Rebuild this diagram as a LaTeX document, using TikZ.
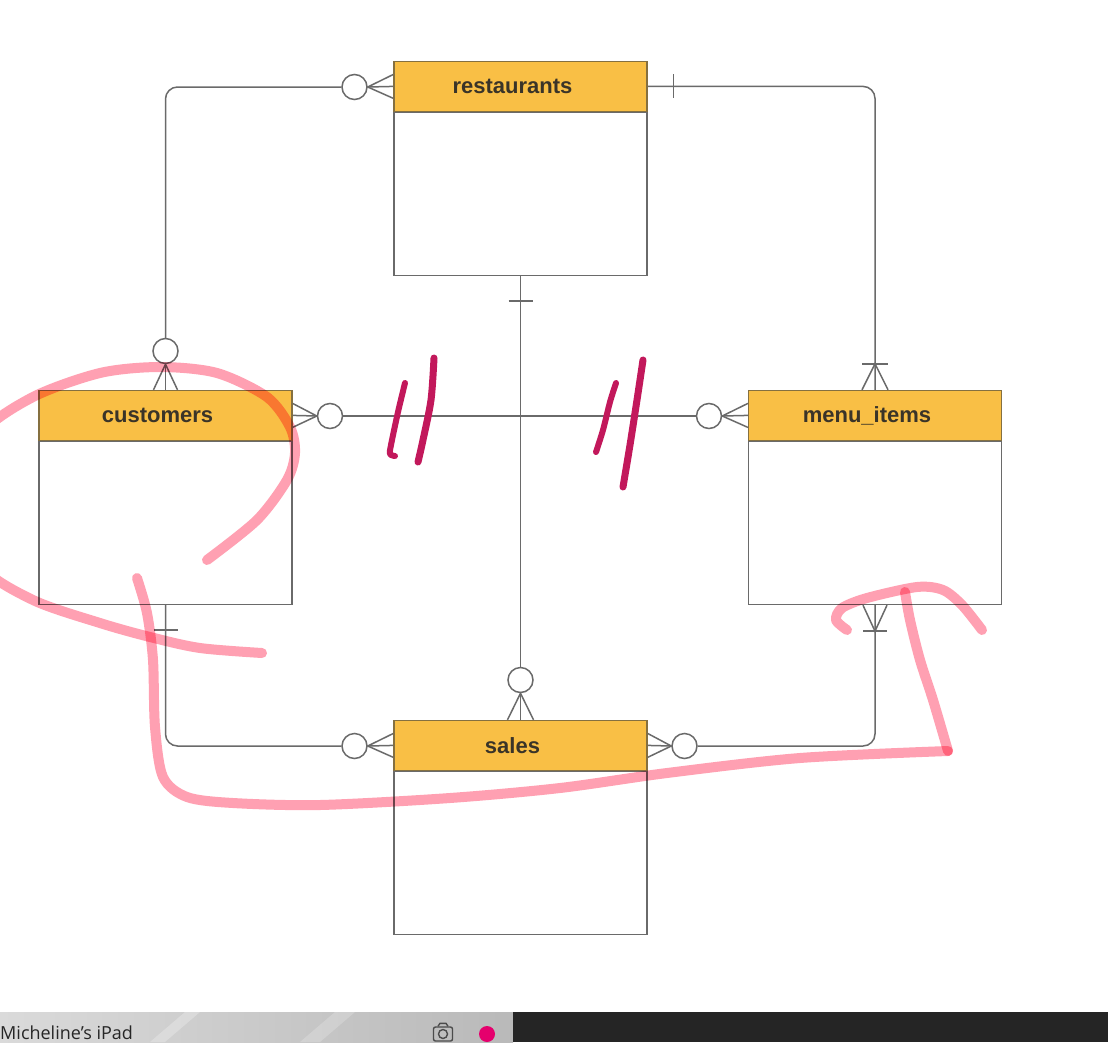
\documentclass[tikz,border=0pt]{standalone}
\usepackage{fontspec}
\setmainfont{Liberation Sans}
\newfontfamily\barfont{Open Sans}
\usetikzlibrary{calc}
\definecolor{hdrfill}{HTML}{F9BF45}
\definecolor{hdrline}{HTML}{857040}
\definecolor{boxline}{HTML}{6A6A6A}
\definecolor{lnc}{HTML}{6A6A6A}
\definecolor{txt}{HTML}{3A3428}
\definecolor{pinkann}{HTML}{FFA0B2}
\definecolor{magann}{HTML}{C2185B}
\definecolor{bardark}{HTML}{252525}
\definecolor{barlight}{HTML}{DADADA}
\definecolor{dotpink}{HTML}{E5006D}
\tikzset{
  hdr/.style={draw=hdrline, fill=hdrfill, line width=1.2pt, minimum width=253pt,
    minimum height=50pt, inner sep=0pt, anchor=south,
    font=\fontsize{22}{24}\selectfont\bfseries, text=txt},
  body/.style={draw=boxline, fill=white, line width=1.2pt, minimum width=253pt,
    minimum height=163pt, inner sep=0pt, anchor=north},
  conn/.style={draw=lnc, line width=1.5pt},
  zc/.style={circle, draw=lnc, line width=1.5pt, fill=white, minimum size=25pt, inner sep=0pt},
  hl/.style={draw=pinkann, line width=10pt, line cap=round, line join=round},
  mg/.style={draw=magann, line width=6pt, line cap=round, line join=round},
}
\begin{document}
\begin{tikzpicture}[x=1pt,y=-1pt]
\useasboundingbox (0,0) rectangle (1108,1042);
\fill[white] (0,0) rectangle (1108,1042);

% tables
\node[body] (restb) at (520.5,112) {};
\node[hdr] (rest) at (restb.north) {\hspace*{-16pt}restaurants};
\node[body] (custb) at (165.5,441) {};
\node[hdr] (cust) at (custb.north) {\hspace*{-16pt}customers};
\node[body] (menub) at (875,441) {};
\node[hdr] (menu) at (menub.north) {\hspace*{-16pt}menu\_items};
\node[body] (salesb) at (520.5,771) {};
\node[hdr] (sales) at (salesb.north) {\hspace*{-16pt}sales};

% circles
\node[zc] (crl) at (354.5,87) {};
\node[zc] (cct) at (165.5,351) {};
\node[zc] (cst) at (520.5,680) {};
\node[zc] (ccr) at (330,416) {};
\node[zc] (cml) at (709,416) {};
\node[zc] (csl) at (354.5,746) {};
\node[zc] (csr) at (684.5,746) {};

% restaurants - customers
\draw[conn, rounded corners=12pt] (crl.west) -| (cct.north);
\draw[conn] ($(rest.west)+(0,-12)$) -- (crl.east) -- ($(rest.west)+(0,12)$);
\draw[conn] (crl.east) -- (rest.west);
\draw[conn] ($(cust.north)+(-12,0)$) -- (cct.south) -- ($(cust.north)+(12,0)$);
\draw[conn] (cct.south) -- (cust.north);

% restaurants - menu_items
\draw[conn, rounded corners=12pt] (rest.east) -| (menu.north);
\draw[conn] ($(rest.east)+(26,-12)$) -- ++(0,24);
\draw[conn] ($(menu.north)+(-13,-26)$) -- ++(26,0);
\draw[conn] ($(menu.north)+(-13,0)$) -- ($(menu.north)+(0,-26)$) -- ($(menu.north)+(13,0)$);

% restaurants - sales
\draw[conn] (restb.south) -- (cst.north);
\draw[conn] ($(restb.south)+(-12,25)$) -- ++(24,0);
\draw[conn] ($(sales.north)+(-13,0)$) -- (cst.south) -- ($(sales.north)+(13,0)$);
\draw[conn] (cst.south) -- (sales.north);

% customers - menu_items
\draw[conn] (ccr.east) -- (cml.west);
\draw[conn] ($(cust.east)+(0,-12)$) -- (ccr.west) -- ($(cust.east)+(0,12)$);
\draw[conn] (cust.east) -- (ccr.west);
\draw[conn] ($(menu.west)+(0,-12)$) -- (cml.east) -- ($(menu.west)+(0,12)$);
\draw[conn] (cml.east) -- (menu.west);

% customers - sales
\draw[conn, rounded corners=12pt] (custb.south) |- (csl.west);
\draw[conn] ($(custb.south)+(-12,25)$) -- ++(24,0);
\draw[conn] ($(sales.west)+(0,-12)$) -- (csl.east) -- ($(sales.west)+(0,12)$);
\draw[conn] (csl.east) -- (sales.west);

% menu_items - sales
\draw[conn, rounded corners=12pt] (menub.south) |- (csr.east);
\draw[conn] ($(menub.south)+(-12,0)$) -- ($(menub.south)+(0,26)$) -- ($(menub.south)+(12,0)$);
\draw[conn] ($(menub.south)+(-12,26)$) -- ++(24,0);
\draw[conn] ($(sales.east)+(0,-12)$) -- (csr.west) -- ($(sales.east)+(0,12)$);
\draw[conn] (sales.east) -- (csr.west);

% magenta hand strokes
\draw[mg] plot[smooth] coordinates {(405,383) (398,412) (391,445) (390,454) (395,456)};
\draw[mg, line width=7pt] plot[smooth] coordinates {(434,358) (431,400) (423,440) (418,462)};
\draw[mg] plot[smooth] coordinates {(616,383) (610,402) (603,430) (596,452)};
\draw[mg, line width=7pt] plot[smooth] coordinates {(643,360) (637,400) (630,445) (623,487)};

% pink highlighter strokes
\begin{scope}[blend mode=multiply]
\draw[hl] plot[smooth] coordinates {(207,560) (257,520) (287,480) (295,453) (290,427) (267,397)
  (217,373) (160,367) (100,373) (33,397) (-20,435) (-45,500) (-20,565) (33,600) (100,623)
  (150,637) (200,648) (262,653)};
\draw[hl] plot[smooth] coordinates {(137,578) (147,613) (153,660) (155,727) (163,777) (187,797)
  (233,803) (320,805) (450,798) (560,788) (667,773) (800,758) (948,751)};
\draw[hl] plot[smooth] coordinates {(948,751) (933,700) (920,660) (910,620) (905,592)};
\draw[hl] plot[smooth] coordinates {(847,630) (836,620) (842,608) (867,598) (917,587) (943,590)
  (962,605) (982,630)};
\end{scope}

% bottom bar
\shade[left color=barlight, right color=barlight!85!black] (0,1012) rectangle (513,1042);
\fill[white, opacity=0.25] (150,1042) -- (185,1012) -- (200,1012) -- (165,1042) -- cycle;
\fill[white, opacity=0.2] (300,1042) -- (335,1012) -- (355,1012) -- (320,1042) -- cycle;
\fill[bardark] (513,1012) rectangle (1108,1042);
\node[anchor=base west, inner sep=0pt, font=\barfont\fontsize{18}{20}\selectfont, text=black!85] (ipad)
  at (0,1039) {Micheline’s iPad};
\node[draw=black!70, line width=1.4pt, rounded corners=2pt, minimum width=19pt, minimum height=14pt,
  inner sep=0pt] (cam) at (443,1034) {};
\draw[black!70, line width=1.4pt] ($(cam.north)+(-5,0)$) -- ++(2,-3) -- ++(6,0) -- ++(2,3);
\node[circle, draw=black!70, line width=1.4pt, minimum size=9pt, inner sep=0pt] (lens) at (cam.center) {};
\node[circle, fill=dotpink, minimum size=16pt, inner sep=0pt] (dot) at (487,1034) {};
\end{tikzpicture}
\end{document}
